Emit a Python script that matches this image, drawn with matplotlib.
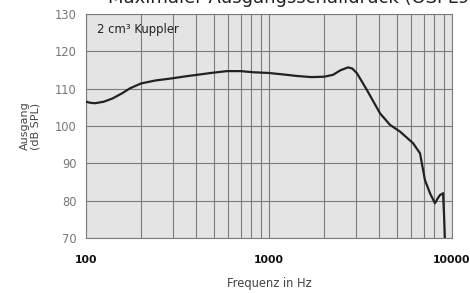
import matplotlib
matplotlib.use("Agg")
import matplotlib.pyplot as plt
from matplotlib.ticker import FixedLocator, LogLocator, NullFormatter

# frequency response (Hz, dB SPL)
freq = [100, 106, 112, 125, 140, 158, 174, 200, 240, 299, 350, 404, 480,
        589, 700, 818, 1000, 1200, 1422, 1700, 2000, 2237, 2450, 2702,
        2850, 3027, 3432, 4042, 4583, 5200, 6124, 6686, 7116, 7580, 8072,
        8350, 8595, 8936, 9050, 9163]
level = [106.5, 106.2, 106.1, 106.5, 107.4, 108.8, 110.1, 111.4, 112.2,
         112.8, 113.3, 113.7, 114.2, 114.7, 114.7, 114.4, 114.2, 113.8,
         113.4, 113.1, 113.2, 113.7, 114.9, 115.7, 115.4, 114.1, 109.6,
         103.4, 100.3, 98.5, 95.4, 92.7, 85.5, 82.0, 79.3, 80.6, 81.5, 82.0,
         76.0, 68.0]

yticks = [70, 80, 90, 100, 110, 120, 130]
xticks = [100, 1000, 10000]
xticklabels = ["100", "1000", "10000"]

fig = plt.figure(figsize=(4.7, 2.93), dpi=100)
ax = fig.add_axes([86 / 470, 55 / 293, 366 / 470, 224 / 293])
ax.set_facecolor("#e4e4e4")

ax.plot(freq, level, color="#222222", lw=1.6, solid_capstyle="round",
        solid_joinstyle="round", zorder=3)

ax.set_xscale("log")
ax.set_xlim(100, 10000)
ax.set_ylim(70, 130)
ax.xaxis.set_major_locator(FixedLocator(xticks))
ax.set_xticklabels(xticklabels)
ax.xaxis.set_minor_locator(LogLocator(base=10, subs=range(2, 10)))
ax.xaxis.set_minor_formatter(NullFormatter())
ax.set_yticks(yticks)

ax.grid(True, which="both", color="#7c7c7c", lw=0.8)
ax.set_axisbelow(True)
for s in ax.spines.values():
    s.set_color("#7c7c7c")
    s.set_linewidth(0.8)

ax.tick_params(which="both", length=0)
ax.tick_params(axis="y", labelsize=8.3, labelcolor="#777777", pad=7)
ax.tick_params(axis="x", labelsize=7.8, labelcolor="#111111", pad=12)
for t in ax.get_xticklabels():
    t.set_fontweight("bold")

ax.set_xlabel("Frequenz in Hz", fontsize=8.3, color="#444444", labelpad=9)
ax.set_ylabel("Ausgang\n(dB SPL)", fontsize=8, color="#444444",
              labelpad=10, linespacing=1.1)

ax.text(0.03, 0.96, "2 cm³ Kuppler", transform=ax.transAxes, fontsize=8.4,
        color="#222222", ha="left", va="top")

# title cut off at the top edge of the image
fig.text(108 / 470, 1 - 3 / 293, "Maximaler Ausgangsschalldruck (OSPL90)",
         fontsize=13, color="#222222", ha="left", va="baseline")

fig.savefig("out.png", dpi=100, facecolor="white")
